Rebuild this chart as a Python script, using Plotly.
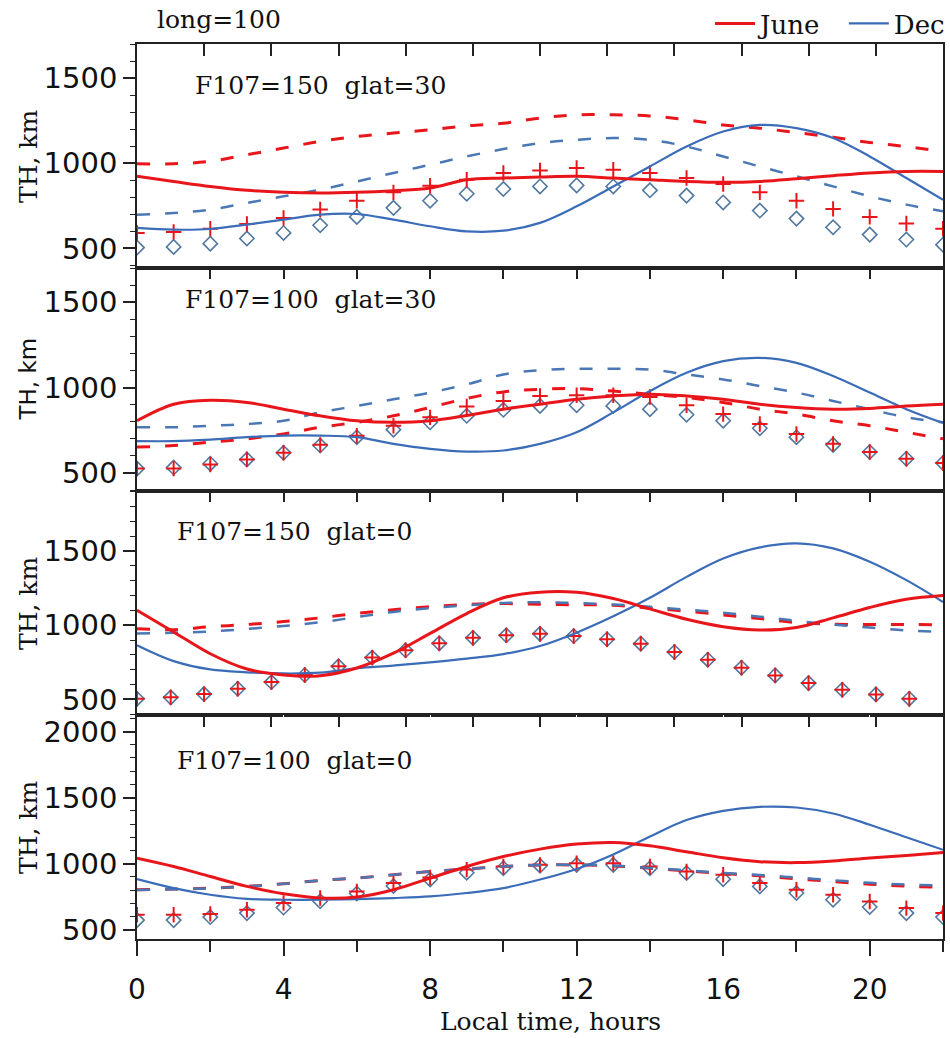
import plotly.graph_objects as go

# ---------------- data ----------------
hours = [0, 1, 2, 3, 4, 5, 6, 7, 8, 9, 10, 11, 12, 13, 14, 15, 16, 17, 18, 19, 20, 21, 22]
p3_marker_hours = [0, 0.92, 1.83, 2.75, 3.67, 4.58, 5.5, 6.42, 7.33, 8.25, 9.17, 10.08,
                   11.0, 11.92, 12.83, 13.75, 14.67, 15.58, 16.5, 17.42, 18.33, 19.25, 20.17, 21.08]

# Panel 1: F107=150 glat=30
p1_june_solid = [923, 893, 864, 841, 829, 825, 829, 839, 855, 903, 913, 919, 923, 913, 903, 893, 888, 893, 909, 927, 943, 952, 952]
p1_june_dash = [997, 997, 1011, 1050, 1089, 1128, 1157, 1177, 1196, 1220, 1235, 1265, 1284, 1284, 1278, 1255, 1225, 1206, 1180, 1153, 1122, 1098, 1069]
p1_dec_solid = [620, 610, 614, 640, 669, 698, 702, 669, 630, 600, 604, 650, 747, 864, 981, 1098, 1186, 1225, 1206, 1148, 1040, 913, 786]
p1_dec_dash = [698, 708, 728, 767, 806, 845, 893, 943, 991, 1040, 1083, 1118, 1138, 1148, 1138, 1098, 1040, 981, 923, 864, 806, 757, 718]
p1_june_obs = [591, 597, 616, 644, 679, 728, 780, 829, 868, 903, 943, 958, 972, 962, 943, 913, 878, 829, 780, 732, 685, 646, 615]
p1_dec_obs = [505, 509, 528, 558, 591, 636, 685, 738, 780, 821, 849, 864, 870, 864, 841, 810, 770, 722, 675, 624, 581, 552, 522]

# Panel 2: F107=100 glat=30
p2_june_solid = [806, 903, 926, 913, 874, 835, 806, 797, 806, 837, 874, 903, 932, 951, 961, 951, 932, 903, 884, 874, 878, 892, 903]
p2_june_dash = [652, 661, 681, 700, 729, 768, 797, 835, 884, 937, 975, 990, 994, 980, 961, 942, 913, 874, 845, 806, 777, 739, 700]
p2_dec_solid = [687, 687, 696, 710, 719, 719, 710, 671, 642, 626, 632, 671, 739, 855, 980, 1087, 1155, 1174, 1145, 1068, 971, 874, 793]
p2_dec_dash = [768, 768, 777, 787, 806, 855, 893, 932, 971, 1019, 1077, 1102, 1110, 1110, 1106, 1077, 1048, 1009, 971, 922, 874, 826, 797]
p2_june_obs = [526, 526, 550, 580, 619, 665, 719, 777, 826, 890, 922, 951, 955, 955, 945, 897, 845, 787, 729, 671, 623, 584, 559]
p2_dec_obs = [526, 532, 555, 580, 619, 661, 710, 754, 797, 835, 870, 893, 897, 893, 874, 841, 806, 762, 710, 665, 623, 584, 559]

# Panel 3: F107=150 glat=0
p3_june_solid = [1101, 955, 808, 705, 665, 660, 712, 812, 945, 1079, 1185, 1223, 1222, 1180, 1110, 1040, 990, 968, 985, 1050, 1120, 1175, 1200]
p3_june_dash = [977, 970, 990, 1005, 1025, 1050, 1080, 1105, 1125, 1140, 1146, 1142, 1138, 1135, 1115, 1095, 1070, 1045, 1018, 1007, 1005, 1005, 1003]
p3_dec_solid = [865, 758, 702, 683, 675, 680, 710, 728, 750, 775, 805, 860, 950, 1060, 1185, 1326, 1450, 1525, 1552, 1518, 1428, 1304, 1157]
p3_dec_dash = [944, 950, 958, 975, 995, 1020, 1055, 1090, 1115, 1135, 1150, 1155, 1150, 1140, 1125, 1105, 1085, 1058, 1030, 1005, 985, 965, 955]
p3_june_obs = [505, 514, 536, 572, 617, 665, 723, 782, 831, 878, 915, 932, 942, 927, 906, 876, 820, 768, 714, 662, 610, 565, 534, 505]
p3_dec_obs = [505, 514, 536, 572, 617, 665, 723, 782, 831, 878, 915, 932, 942, 927, 906, 876, 820, 768, 714, 662, 610, 565, 534, 505]

# Panel 4: F107=100 glat=0
p4_june_solid = [1042, 979, 903, 828, 772, 740, 747, 803, 891, 979, 1054, 1110, 1148, 1160, 1135, 1090, 1045, 1015, 1008, 1020, 1043, 1062, 1085]
p4_june_dash = [803, 808, 815, 828, 848, 873, 891, 916, 941, 959, 979, 990, 990, 983, 965, 945, 925, 908, 885, 865, 845, 830, 820]
p4_dec_solid = [883, 815, 765, 734, 727, 727, 732, 740, 752, 778, 815, 880, 960, 1070, 1205, 1330, 1400, 1430, 1425, 1380, 1295, 1200, 1105]
p4_dec_dash = [800, 806, 814, 828, 848, 873, 891, 916, 941, 959, 979, 990, 992, 985, 968, 950, 930, 915, 895, 875, 855, 842, 835]
p4_june_obs = [613, 613, 620, 651, 702, 740, 790, 853, 895, 955, 979, 991, 1004, 1004, 979, 941, 916, 853, 803, 765, 714, 664, 626]
p4_dec_obs = [573, 573, 596, 626, 668, 716, 774, 831, 880, 931, 966, 984, 991, 991, 966, 929, 883, 828, 778, 727, 672, 626, 596]

panel_labels = ["F107=150\u00a0\u00a0glat=30", "F107=100\u00a0\u00a0glat=30",
                "F107=150\u00a0\u00a0glat=0", "F107=100\u00a0\u00a0glat=0"]
y_ranges = [[385, 1700], [395, 1700], [395, 1905], [430, 2125]]
x_tick_vals = [0, 4, 8, 12, 16, 20]
two_hour_ticks = [2, 4, 6, 8, 10, 12, 14, 16, 18, 20]
# the top edges of panels 1 and 4 carry 11 ticks splitting the 0-22 h span into 12 equal parts
top_tick_hours = [1.833, 3.667, 5.5, 7.333, 9.167, 11.0, 12.833, 14.667, 16.5, 18.333, 20.167]

# ---------------- styling ----------------
RED = "#e8161b"
BLUE = "#3b6cb8"
BLUE_D = "#4a78b5"
DIAM = "#52789f"
AXC = "#222222"
SERIF = "DejaVu Serif"
SANS = "DejaVu Sans"
W, H = 950, 1038
X0, X1 = 137, 943
panel_px = [(44, 268), (268, 491), (491, 715), (715, 939)]


def fy(py):
    return 1 - py / H


panels = [
    (p1_june_solid, p1_june_dash, p1_dec_solid, p1_dec_dash, p1_june_obs, p1_dec_obs, hours),
    (p2_june_solid, p2_june_dash, p2_dec_solid, p2_dec_dash, p2_june_obs, p2_dec_obs, hours),
    (p3_june_solid, p3_june_dash, p3_dec_solid, p3_dec_dash, p3_june_obs, p3_dec_obs, p3_marker_hours),
    (p4_june_solid, p4_june_dash, p4_dec_solid, p4_dec_dash, p4_june_obs, p4_dec_obs, hours),
]

fig = go.Figure()
DASH = "13px,15px"
for i, (js, jd, ds, dd, jo, do, mh) in enumerate(panels):
    xa = "x" if i == 0 else f"x{i+1}"
    ya = "y" if i == 0 else f"y{i+1}"
    fig.add_trace(go.Scatter(x=mh, y=do, mode="markers", xaxis=xa, yaxis=ya, showlegend=False,
                             marker=dict(symbol="diamond-open", size=11, color=DIAM, line=dict(width=1.6, color=DIAM))))
    fig.add_trace(go.Scatter(x=mh, y=jo, mode="markers", xaxis=xa, yaxis=ya, showlegend=False,
                             marker=dict(symbol="cross-thin-open", size=11, color=RED, line=dict(width=2, color=RED))))
    fig.add_trace(go.Scatter(x=hours, y=jd, mode="lines", xaxis=xa, yaxis=ya, showlegend=False,
                             line=dict(color=RED, width=3, dash=DASH, shape="spline")))
    fig.add_trace(go.Scatter(x=hours, y=dd, mode="lines", xaxis=xa, yaxis=ya, showlegend=False,
                             line=dict(color=BLUE_D, width=2.5, dash=DASH, shape="spline")))
    fig.add_trace(go.Scatter(x=hours, y=ds, mode="lines", xaxis=xa, yaxis=ya, name="Dec",
                             showlegend=(i == 0), legendrank=2,
                             line=dict(color=BLUE, width=2.2, shape="spline")))
    fig.add_trace(go.Scatter(x=hours, y=js, mode="lines", xaxis=xa, yaxis=ya, name="June\u00a0\u00a0",
                             showlegend=(i == 0), legendrank=1,
                             line=dict(color=RED, width=3, shape="spline")))

layout = dict(
    width=W, height=H,
    margin=dict(l=0, r=0, t=0, b=0, pad=0),
    plot_bgcolor="rgba(0,0,0,0)", paper_bgcolor="white",
    font=dict(family=SANS, color="#111111"),
    legend=dict(orientation="h", x=1.0, xanchor="right", y=1.0, yanchor="top",
                font=dict(family=SERIF, size=26, color="#111111"), bgcolor="rgba(0,0,0,0)",
                itemwidth=40, tracegroupgap=0),
)

xdom = [X0 / W, X1 / W]
for i in range(4):
    top, bot = panel_px[i]
    xk = "xaxis" if i == 0 else f"xaxis{i+1}"
    yk = "yaxis" if i == 0 else f"yaxis{i+1}"
    ya = "y" if i == 0 else f"y{i+1}"
    xa = "x" if i == 0 else f"x{i+1}"
    xcfg = dict(domain=xdom, anchor=ya, range=[0, 22], showline=True, linecolor=AXC, linewidth=1.6,
                mirror=True, automargin=False, tickwidth=2, tickcolor=AXC, showticklabels=False)
    if i == 0:
        # axis on the top edge: 12-division ticks pointing into the panel
        xcfg.update(side="top", ticks="inside", tickmode="array", tickvals=top_tick_hours, ticklen=12)
    elif i in (1, 2):
        # axis on the top edge: 2-hour ticks pointing into the panel
        xcfg.update(side="top", ticks="inside", tickmode="array", tickvals=two_hour_ticks, ticklen=11)
    else:
        xcfg.update(ticks="outside", tickmode="array", tickvals=x_tick_vals, ticklen=15,
                    showticklabels=True, tickfont=dict(family=SANS, size=28, color="#111111"),
                    ticklabelstandoff=10,
                    minor=dict(dtick=2, tick0=0, ticks="outside", ticklen=11, tickwidth=2, tickcolor=AXC))
    layout[xk] = xcfg
    ycfg = dict(domain=[fy(bot), fy(top)], anchor=xa, range=y_ranges[i], showgrid=False, zeroline=False,
                showline=True, linecolor=AXC, linewidth=1.6, mirror=True, automargin=False,
                ticks="outside", dtick=500, tick0=0, ticklen=12, tickwidth=1.6, tickcolor=AXC,
                tickfont=dict(family=SANS, size=29, color="#111111"),
                minor=dict(dtick=100, tick0=0, ticks="outside", ticklen=5, tickwidth=1.2, tickcolor=AXC))
    layout[yk] = ycfg

# panel 4 top edge: a second x axis overlaying x4, 12-division ticks pointing down
layout["xaxis5"] = dict(overlaying="x4", anchor="y4", side="top", range=[0, 22],
                        tickmode="array", tickvals=top_tick_hours, ticks="inside", ticklen=12,
                        tickwidth=2, tickcolor=AXC, showticklabels=False, showline=False,
                        automargin=False)
fig.add_trace(go.Scatter(x=hours, y=p4_june_solid, mode="lines", xaxis="x5", yaxis="y4",
                         showlegend=False, hoverinfo="skip", line=dict(width=0, color="rgba(0,0,0,0)")))

annotations = [
    dict(text="long=100", x=155 / W, y=fy(20), xref="paper", yref="paper", xanchor="left", yanchor="middle",
         showarrow=False, font=dict(family=SERIF, size=25, color="#111111")),
    dict(text="Local time, hours", x=550 / W, y=fy(1021), xref="paper", yref="paper", xanchor="center",
         yanchor="middle", showarrow=False, font=dict(family=SERIF, size=25, color="#111111")),
]
label_pos = [(193, 86), (183, 300), (175, 531), (175, 760)]
for i in range(4):
    lx, ly = label_pos[i]
    annotations.append(dict(text=panel_labels[i], x=lx / W, y=fy(ly), xref="paper", yref="paper",
                            xanchor="left", yanchor="middle", showarrow=False,
                            font=dict(family=SERIF, size=25, color="#111111")))
    top, bot = panel_px[i]
    annotations.append(dict(text="TH, km", x=28 / W, y=fy((top + bot) / 2), xref="paper", yref="paper",
                            xanchor="center", yanchor="middle", textangle=-90, showarrow=False,
                            font=dict(family=(SANS if i == 1 else SERIF), size=(23 if i == 1 else 25),
                                      color="#111111")))
layout["annotations"] = annotations

fig.update_layout(**layout)
fig.write_html("out.html")
